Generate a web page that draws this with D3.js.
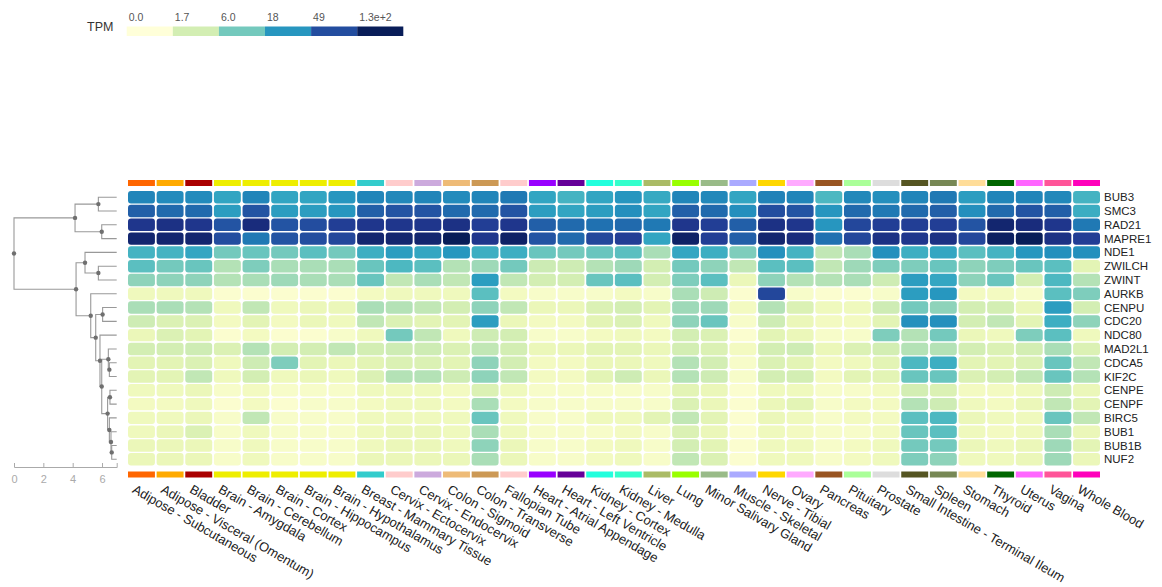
<html>
<head>
<meta charset="utf-8">
<script src="https://d3js.org/d3.v7.min.js"></script>
<style>
  body { margin: 0; background: #fff; font-family: "Liberation Sans", Arial, Helvetica, sans-serif; }
  svg { display: block; }
  .axis text { fill: #aaa; font-size: 11px; font-family: "Liberation Sans", Arial, sans-serif; }
  .axis line, .axis path { stroke: #aaa; }
</style>
</head>
<body>
<svg id="chart" width="1162" height="587"></svg>
<script>
// tissues along x, with their GTEx colours
const tissues = [
  "Adipose - Subcutaneous", "Adipose - Visceral (Omentum)", "Bladder",
  "Brain - Amygdala", "Brain - Cerebellum", "Brain - Cortex", "Brain - Hippocampus",
  "Brain - Hypothalamus", "Breast - Mammary Tissue", "Cervix - Ectocervix",
  "Cervix - Endocervix", "Colon - Sigmoid", "Colon - Transverse", "Fallopian Tube",
  "Heart - Atrial Appendage", "Heart - Left Ventricle", "Kidney - Cortex",
  "Kidney - Medulla", "Liver", "Lung", "Minor Salivary Gland", "Muscle - Skeletal",
  "Nerve - Tibial", "Ovary", "Pancreas", "Pituitary", "Prostate",
  "Small Intestine - Terminal Ileum", "Spleen", "Stomach", "Thyroid", "Uterus",
  "Vagina", "Whole Blood"
];
const tissueColors = [
  "#FF6600", "#FFAA00", "#AA0000", "#EEEE00", "#EEEE00", "#EEEE00", "#EEEE00",
  "#EEEE00", "#33CCCC", "#FFCCCC", "#CCAADD", "#EEBB77", "#CC9955", "#FFCCCC",
  "#9900FF", "#660099", "#22FFDD", "#33FFCC", "#AABB66", "#99FF00", "#99BB88",
  "#AAAAFF", "#FFD700", "#FFAAFF", "#995522", "#AAFF99", "#DDDDDD", "#555522",
  "#778855", "#FFDD99", "#006600", "#FF66FF", "#FF5599", "#FF00BB"
];

// genes in dendrogram order
const genes = ["BUB3", "SMC3", "RAD21", "MAPRE1", "NDE1", "ZWILCH", "ZWINT", "AURKB",
  "CENPU", "CDC20", "NDC80", "MAD2L1", "CDCA5", "KIF2C", "CENPE", "CENPF", "BIRC5",
  "BUB1", "BUB1B", "NUF2"];

// median TPM per tissue (same order as tissues)
const BUB3   = [23,21,21,14,23,14,14,18,23,22,23,21,23,27,14,10.5,14,18,13,23,22,14,24,23,9.4,22,20,23,27,16,23,23,22,10.5];
const SMC3   = [38,33,33,16,44,16,16,18,38,44,44,33,33,44,16,14,16,20,14,38,33,20,49,44,18,33,27,33,38,20,33,44,38,12];
const RAD21  = [72,80,72,44,88,44,49,62,72,72,72,80,62,72,38,33,30,33,27,72,62,38,80,72,18,54,62,62,62,44,102,88,72,27];
const MAPRE1 = [102,102,102,49,27,44,49,54,102,102,102,140,72,113,44,33,54,62,14,113,62,38,102,88,30,54,80,72,80,54,119,140,80,62];
const NDE1   = [10.5,10.5,13.7,6,6.8,6,8,6,11.7,16,13.7,17.8,11.7,11.7,6.8,6,6.8,8,3.3,13.7,11.7,5.4,19.6,10.5,2.4,3.3,19.6,11.7,13.7,8,10.5,17.8,19.6,19.6];
const ZWILCH = [8,6,6.8,2.9,5.4,3.3,3.3,3.3,6.8,9.4,8,2.9,3.8,6,2,1.9,2.9,3.8,1.7,6,4.5,2.4,8,8,2.4,3.8,5.4,5.4,6.8,4.5,5.4,6.8,8,1.1];
const ZWINT  = [4.5,4.5,4.5,2.9,3.3,3.8,3.3,3.3,6.8,2.4,3.3,2.4,16,2.4,1.7,1.7,6.8,8,1.7,5.4,8,0.8,4.5,2.9,2.9,3.3,1.9,16,13.7,4.5,6.8,1.7,9.4,2.9];
const AURKB  = [0.63,0.63,0.63,0.16,0.16,0.16,0.16,0.16,0.48,0.63,0.63,0.63,8,0.48,0.28,0.28,0.28,0.48,0.28,3.3,1.9,0.16,54,0.28,0.16,0.16,0.28,16,17.8,0.48,0.48,0.28,8,5.4];
const CENPU  = [3.3,3.3,2.9,0.63,2.4,0.63,0.8,0.8,3.3,2.9,2.4,1.7,4.5,2.4,0.8,0.8,1.4,1.7,1.1,3.8,3.8,0.48,2.9,1.4,0.63,0.63,1.9,6,4.5,1.7,1.7,0.8,16,1.7];
const CDC20  = [1.9,1.4,1.4,0.48,1.1,0.48,0.8,0.63,2.4,1.4,1.1,1.1,16,0.8,0.48,0.48,1.1,1.4,0.63,4.5,6.8,0.28,1.9,0.8,0.48,0.48,1.1,19.6,19.6,1.7,2.4,1.1,11.7,4.5];
const NDC80  = [0.8,1.4,1.1,0.16,0.48,0.16,0.16,0.28,0.63,6,2.4,0.63,1.9,1.7,0.28,0.28,0.48,0.63,0.48,1.7,1.4,0.16,1.1,0.8,0.28,0.28,5.4,2.9,6,0.8,0.63,5.4,8,0.63];
const MAD2L1 = [1.7,1.7,1.9,1.4,2.9,1.7,1.7,2.4,1.7,1.9,1.9,1.4,2.4,1.7,0.8,0.8,1.1,1.1,0.8,1.7,1.4,0.48,1.7,1.9,0.8,1.4,1.7,2.9,2.9,1.7,1.4,1.7,3.3,1.4];
const CDCA5  = [1.1,1.1,1.4,0.63,1.9,5.4,1.1,0.8,1.1,1.4,1.4,1.1,4.5,1.7,0.48,0.48,0.8,0.8,0.63,2.9,1.7,0.28,1.4,1.1,0.48,0.63,1.1,9.4,11.7,1.1,1.1,1.4,6.8,2.4];
const KIF2C  = [1.1,1.1,2.4,0.63,1.7,0.63,0.8,0.63,1.4,2.9,2.9,1.9,4.5,2.4,0.48,0.48,1.1,1.9,0.8,2.9,1.9,0.28,1.7,1.7,0.48,1.1,1.1,6.8,6.8,1.4,1.7,2.4,6.8,2.9];
const CENPE  = [0.63,0.63,0.8,0.28,0.48,0.28,0.28,0.28,0.63,0.63,0.63,0.48,1.4,0.63,0.28,0.28,0.28,0.28,0.28,1.1,0.8,0.16,0.63,0.63,0.28,0.28,0.48,1.7,1.4,0.48,0.48,0.63,1.9,0.8];
const CENPF  = [0.48,0.48,0.63,0.16,0.48,0.16,0.28,0.28,0.48,0.63,0.63,0.48,3.3,0.48,0.28,0.28,0.28,0.28,0.28,1.4,0.8,0.16,0.8,1.1,0.28,0.48,0.48,2.9,1.9,0.63,0.48,0.8,2.4,1.1];
const BIRC5  = [0.63,0.63,0.8,0.28,2.4,0.28,0.28,0.28,0.63,0.63,0.63,0.63,6.8,0.63,0.28,0.28,0.63,0.63,1.1,2.4,1.1,0.16,0.8,0.63,0.28,0.48,0.48,8,9.4,0.8,0.63,0.63,6.8,2.4];
const BUB1   = [0.63,0.8,1.4,0.28,0.63,0.28,0.28,0.28,0.63,0.8,0.8,0.63,3.3,0.63,0.28,0.28,0.28,0.48,0.28,1.4,0.8,0.16,0.63,0.48,0.28,0.28,0.48,6.8,8,0.63,0.48,0.63,3.3,0.8];
const BUB1B  = [0.8,0.8,0.8,0.28,0.63,0.28,0.28,0.28,0.63,0.8,0.8,0.63,4.5,0.8,0.28,0.28,0.48,0.63,0.28,1.7,1.1,0.16,0.63,0.63,0.28,0.48,0.63,6,6,0.8,0.63,0.8,3.8,1.1];
const NUF2   = [0.8,0.8,0.8,0.28,0.63,0.28,0.28,0.28,0.8,0.8,0.8,0.8,3.3,0.8,0.28,0.28,0.48,0.63,0.28,2.4,1.4,0.16,0.63,0.63,0.28,0.48,0.63,5.4,4.5,0.63,0.63,0.8,3.8,0.8];
const rows = [BUB3, SMC3, RAD21, MAPRE1, NDE1, ZWILCH, ZWINT, AURKB, CENPU, CDC20,
  NDC80, MAD2L1, CDCA5, KIF2C, CENPE, CENPF, BIRC5, BUB1, BUB1B, NUF2];

// legend ticks (TPM)
const legendTicks = [0, 1.7, 6.0, 18, 49, 130];
const legendLabels = ["0.0", "1.7", "6.0", "18", "49", "1.3e+2"];

// hierarchical clustering merges: [childA, childB, height]; internal nodes named n0, n1, ...
const linkage = [
  ["BUB3", "SMC3", 5.75],     // n0
  ["RAD21", "MAPRE1", 5.98],  // n1
  ["n0", "n1", 4.16],         // n2
  ["ZWILCH", "ZWINT", 5.75],  // n3
  ["NDE1", "n3", 4.84],       // n4
  ["CENPU", "CDC20", 6.04],   // n5
  ["CDCA5", "KIF2C", 6.5],    // n6
  ["MAD2L1", "n6", 6.43],     // n7
  ["CENPE", "CENPF", 6.54],   // n8
  ["BUB1B", "NUF2", 6.66],    // n9
  ["BUB1", "n9", 6.61],       // n10
  ["BIRC5", "n10", 6.5],      // n11
  ["n8", "n11", 6.38],        // n12
  ["n7", "n12", 5.98],        // n13
  ["NDC80", "n13", 5.86],     // n14
  ["n5", "n14", 5.57],        // n15
  ["AURKB", "n15", 5.23],     // n16
  ["n4", "n16", 4.23],        // n17
  ["n2", "n17", 0]            // root
];
const leafHeight = 7;

const svg = d3.select("#chart");

// colour: log10(TPM+1) on YlGnBu
const logMax = Math.log10(131);
const color = d3.scaleSequential(d3.interpolateYlGnBu).domain([0, logMax]).clamp(true);
const col = v => color(Math.log10(v + 1));

const x = d3.scaleBand().domain(tissues).range([128, 1100]).paddingInner(0.06);
const y = d3.scaleBand().domain(genes).range([191, 465.5]).paddingInner(0.1);

// cells
const cells = [];
rows.forEach((r, i) => r.forEach((v, j) => cells.push({gene: genes[i], tissue: tissues[j], value: v})));
svg.append("g").selectAll("rect")
  .data(cells)
  .enter()
  .append("rect")
  .attr("x", d => x(d.tissue))
  .attr("y", d => y(d.gene))
  .attr("width", x.bandwidth())
  .attr("height", y.bandwidth())
  .attr("rx", 3)
  .attr("fill", d => col(d.value));

// tissue colour strips top and bottom
[180, 471.5].forEach(sy => {
  svg.append("g").selectAll("rect")
    .data(tissues)
    .enter()
    .append("rect")
    .attr("x", d => x(d))
    .attr("y", sy)
    .attr("width", x.bandwidth())
    .attr("height", 6)
    .attr("fill", (d, i) => tissueColors[i]);
});

// gene labels
svg.append("g").selectAll("text")
  .data(genes)
  .enter()
  .append("text")
  .attr("x", 1104)
  .attr("y", d => y(d) + y.bandwidth() / 2)
  .attr("dy", "0.35em")
  .attr("font-size", "11.5px")
  .attr("fill", "#222")
  .text(d => d);

// tissue labels
svg.append("g").selectAll("text")
  .data(tissues)
  .enter()
  .append("text")
  .attr("transform", d => "translate(" + (x(d) + x.bandwidth() / 2 - 10) + ",492) rotate(30)")
  .attr("font-size", "13px")
  .attr("fill", "#222")
  .text(d => d);

// dendrogram
const dx = d3.scaleLinear().domain([0, leafHeight]).range([14, 116.7]);
const nodes = {};
genes.forEach(g => nodes[g] = {y: y(g) + y.bandwidth() / 2, h: leafHeight});
const dendro = svg.append("g");
const dots = [];
linkage.forEach((m, i) => {
  const a = nodes[m[0]], b = nodes[m[1]];
  const n = {y: (a.y + b.y) / 2, h: m[2]};
  nodes["n" + i] = n;
  const path = d3.path();
  path.moveTo(dx(a.h), a.y);
  path.lineTo(dx(n.h), a.y);
  path.lineTo(dx(n.h), b.y);
  path.lineTo(dx(b.h), b.y);
  dendro.append("path")
    .attr("d", path.toString())
    .attr("fill", "none")
    .attr("stroke", "#999")
    .attr("stroke-width", 1.1);
  dots.push(n);
});
dendro.selectAll("circle")
  .data(dots)
  .enter()
  .append("circle")
  .attr("cx", d => dx(d.h))
  .attr("cy", d => d.y)
  .attr("r", 2.2)
  .attr("fill", "#6f6f6f");

svg.append("g")
  .attr("class", "axis")
  .attr("transform", "translate(0,467)")
  .call(d3.axisBottom(dx).tickValues([0, 2, 4, 6]).tickFormat(d3.format("d")).tickSize(-4).tickPadding(8))
  .call(g => g.select(".domain").attr("stroke", "#aaa"));

// legend
svg.append("text")
  .attr("x", 87)
  .attr("y", 31)
  .attr("font-size", "12.5px")
  .attr("fill", "#333")
  .text("TPM");
const lx = d3.scaleBand().domain(legendLabels).range([126.7, 403.3]);
const legend = svg.append("g").selectAll("g")
  .data(legendTicks)
  .enter()
  .append("g")
  .attr("transform", (d, i) => "translate(" + lx(legendLabels[i]) + ",0)");
legend.append("rect")
  .attr("y", 26.5)
  .attr("width", lx.bandwidth())
  .attr("height", 9.5)
  .attr("fill", d => col(d));
legend.append("text")
  .attr("x", 2)
  .attr("y", 20.5)
  .attr("font-size", "10.5px")
  .attr("fill", "#555")
  .text((d, i) => legendLabels[i]);
</script>
</body>
</html>
